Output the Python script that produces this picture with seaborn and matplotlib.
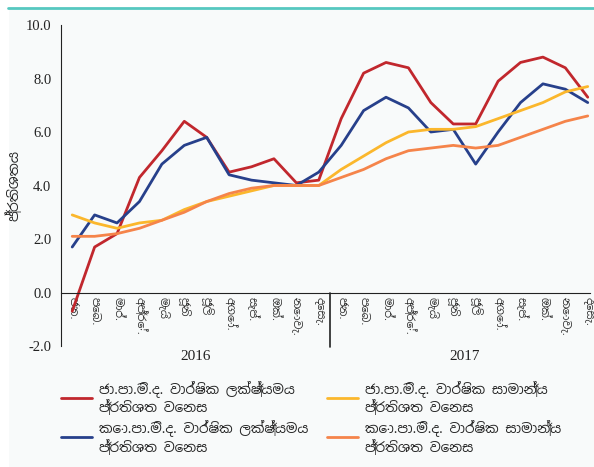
import pandas as pd
import matplotlib
matplotlib.use('Agg')
import matplotlib.pyplot as plt
import seaborn as sns
from matplotlib import font_manager

sns.set_style('white')

# month labels (Sinhala) and years
months = ["ජන.", "පෙබ.", "මාර්.", "අප්‍රේ.", "මැයි", "ජූනි", "ජූලි",
          "අගෝ.", "සැප්.", "ඔක්.", "නොවැ.", "දෙසැ."]
years = ["2016", "2017"]

ncpi_p2p = [-0.7, 1.7, 2.2, 4.3, 5.3, 6.4, 5.8, 4.5, 4.7, 5.0, 4.1, 4.2,
            6.5, 8.2, 8.6, 8.4, 7.1, 6.3, 6.3, 7.9, 8.6, 8.8, 8.4, 7.3]
ccpi_p2p = [1.7, 2.9, 2.6, 3.4, 4.8, 5.5, 5.8, 4.4, 4.2, 4.1, 4.0, 4.5,
            5.5, 6.8, 7.3, 6.9, 6.0, 6.1, 4.8, 6.0, 7.1, 7.8, 7.6, 7.1]
ncpi_avg = [2.9, 2.6, 2.4, 2.6, 2.7, 3.1, 3.4, 3.6, 3.8, 4.0, 4.0, 4.0,
            4.6, 5.1, 5.6, 6.0, 6.1, 6.1, 6.2, 6.5, 6.8, 7.1, 7.5, 7.7]
ccpi_avg = [2.1, 2.1, 2.2, 2.4, 2.7, 3.0, 3.4, 3.7, 3.9, 4.0, 4.0, 4.0,
            4.3, 4.6, 5.0, 5.3, 5.4, 5.5, 5.4, 5.5, 5.8, 6.1, 6.4, 6.6]

labels = ["ජා.පා.මි.ද. වාර්ෂික ලක්ෂ්‍යමය\nප්‍රතිශත වෙනස",
          "කො.පා.මි.ද. වාර්ෂික ලක්ෂ්‍යමය\nප්‍රතිශත වෙනස",
          "ජා.පා.මි.ද. වාර්ෂික සාමාන්‍ය\nප්‍රතිශත වෙනස",
          "කො.පා.මි.ද. වාර්ෂික සාමාන්‍ය\nප්‍රතිශත වෙනස"]
colors = ["#c1272d", "#27408b", "#fbb72c", "#f5844a"]

rows = []
for lab, vals in zip(labels, [ncpi_p2p, ccpi_p2p, ncpi_avg, ccpi_avg]):
    for i, v in enumerate(vals):
        rows.append({'idx': i, 'value': v, 'series': lab})
df = pd.DataFrame(rows)

# pick a font with Sinhala glyphs if one exists
avail = {f.name for f in font_manager.fontManager.ttflist}
sin_fonts = [f for f in ["Noto Sans Sinhala", "Iskoola Pota", "Noto Serif Sinhala",
                         "Noto Sans", "DejaVu Sans"] if f in avail]
serif = ['Liberation Serif', 'DejaVu Serif']

bg = '#f8fafa'
fig = plt.figure(figsize=(5.94, 4.67), dpi=100, facecolor='white')
fig.patches.append(plt.Rectangle((9 / 594, 0), 1, 1 - 9 / 467, transform=fig.transFigure,
                                 facecolor=bg, edgecolor='none', zorder=-1))
fig.lines.append(plt.Line2D([8 / 594, 1], [1 - 8 / 467, 1 - 8 / 467], transform=fig.transFigure,
                            color='#56c8c0', lw=2))

ax = fig.add_axes([61 / 594, 1 - 346 / 467, (590 - 61) / 594, (346 - 25) / 467])
ax.set_facecolor(bg)

sns.lineplot(data=df, x='idx', y='value', hue='series', palette=colors,
             hue_order=labels, linewidth=2, ax=ax, legend=False)

ax.set_xlim(-0.5, 23.1)
ax.set_ylim(-2, 10)
ax.set_yticks([-2, 0, 2, 4, 6, 8, 10])
ax.set_yticklabels([f"{v:.1f}" for v in [-2, 0, 2, 4, 6, 8, 10]],
                   fontfamily=serif, fontsize=10.5, color='#222222')
ax.tick_params(axis='y', length=4, width=1, direction='out', pad=3)

for s in ['top', 'right']:
    ax.spines[s].set_visible(False)
ax.spines['left'].set_color('#222222')
ax.spines['bottom'].set_position(('data', 0))
ax.spines['bottom'].set_color('#222222')

ax.set_xticks(range(24))
ax.set_xticklabels(months * 2, rotation=270, fontsize=8, family=sin_fonts,
                   va='top', ha='center', color='#333333')
ax.tick_params(axis='x', length=0, pad=3)
ax.set_xlabel('')
ax.set_ylabel('ප්‍රතිශතය', family=sin_fonts, fontsize=10, labelpad=2)

# year separator and year labels
ax.plot([11.5, 11.5], [-2.05, 0], color='#222222', lw=1.2, clip_on=False)
for i, yr in enumerate(years):
    ax.text(5.5 + 12 * i, -2.38, yr, ha='center', va='center', fontsize=11,
            fontfamily=serif, color='#222222')

handles = [plt.Line2D([], [], color=c, lw=2) for c in colors]
fig.legend(handles, labels, ncol=2, loc='lower left', bbox_to_anchor=(49 / 594, 0.0),
           frameon=False, prop={'family': sin_fonts, 'size': 9.7},
           handlelength=2.3, columnspacing=1.4, labelspacing=0.3, handletextpad=0.5)

fig.savefig('out.png', dpi=100, facecolor='white')
